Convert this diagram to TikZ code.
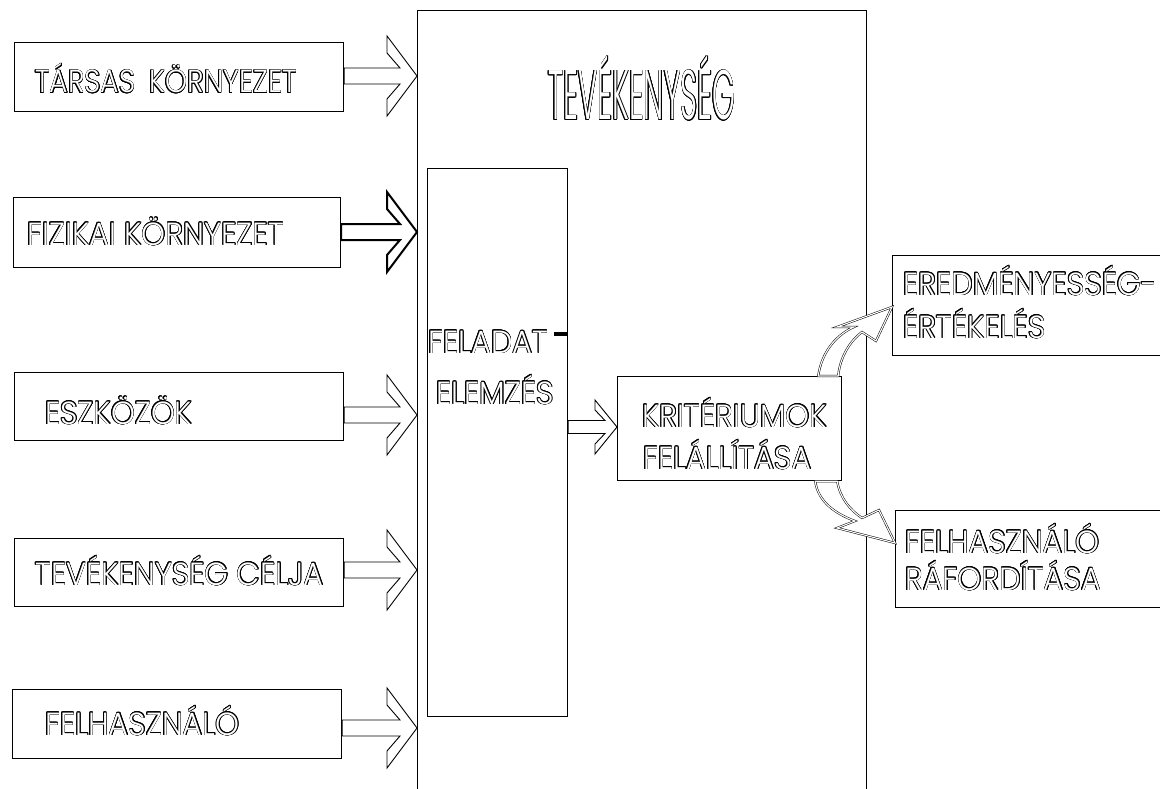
\documentclass[tikz,border=0pt]{standalone}
\usepackage{fontspec}
\setmainfont{Poppins}[UprightFont=* Light, FakeStretch=0.95]
\newfontfamily\narrowfont{Poppins}[UprightFont=* Light, FakeStretch=0.88]
\newfontfamily\condfont{Poppins}[UprightFont=* Light, FakeStretch=0.42]
\usepackage{contour}
\contourlength{0.6pt}
\usetikzlibrary{calc}
\newcommand\ol[1]{\contour{black}{#1}}
\tikzset{
  box/.style={draw=black, line width=1.2pt, rectangle, inner sep=0pt, anchor=north west},
  lbl/.style={anchor=base west, inner sep=0pt, text=white, font=\fontsize{32}{32}\selectfont},
  barrow/.style={draw=black, line width=0.9pt, fill=white, line join=miter},
  carrow/.style={draw=black, line width=0.5pt, double=white, double distance=1.1pt, line join=miter},
}
% #1 extra style, #2 start node, #3 end node, #4 y
\newcommand\blockarrow[4][]{%
  \draw[barrow,#1] ($(#2.east |- 0,#4)+(0,-8)$) -- ($(#3.west |- 0,#4)+(-17,-8)$)
    -- ($(#3.west |- 0,#4)+(-30,-23)$) -- ($(#3.west |- 0,#4)+(-30,-40)$)
    -- (#3.west |- 0,#4)
    -- ($(#3.west |- 0,#4)+(-30,40)$) -- ($(#3.west |- 0,#4)+(-30,23)$)
    -- ($(#3.west |- 0,#4)+(-17,8)$) -- ($(#2.east |- 0,#4)+(0,8)$) -- cycle;}
\begin{document}
\begin{tikzpicture}[x=1pt,y=-1pt]
\useasboundingbox (0,0) rectangle (1160,789);
\clip (0,0) rectangle (1160,789);
% main box
\node[box, minimum width=449pt, minimum height=790pt] (main) at (417,10) {};
\node[lbl, font=\condfont\fontsize{70}{70}\selectfont] (tmain) at (548,120) {\ol{TEVÉKENYSÉG}};
% left boxes
\node[box, minimum width=329pt, minimum height=69pt] (b1) at (14,42) {};
\node[box, minimum width=327pt, minimum height=70pt] (b2) at (13,197) {};
\node[box, minimum width=329pt, minimum height=68pt] (b3) at (14,372) {};
\node[box, minimum width=329pt, minimum height=68pt] (b4) at (14,538) {};
\node[box, minimum width=329pt, minimum height=69pt] (b5) at (12,689) {};
\node[lbl, font=\narrowfont\fontsize{32}{32}\selectfont] (t1) at (35,93) {\ol{TÁRSAS\hspace{14pt}KÖRNYEZET}};
\node[lbl] (t2) at (27,245) {\ol{FIZIKAI KÖRNYEZET}};
\node[lbl] (t3) at (45,424) {\ol{ESZKÖZÖK}};
\node[lbl] (t4) at (35,585) {\ol{TEVÉKENYSÉG CÉLJA}};
\node[lbl] (t5) at (45,735) {\ol{FELHASZNÁLÓ}};
% arrows into main box
\blockarrow{b1}{main}{76}
\blockarrow[line width=2pt]{b2}{main}{232}
\blockarrow{b3}{main}{415}
\blockarrow{b4}{main}{570}
\blockarrow{b5}{main}{728}
% inner box
\node[box, minimum width=140pt, minimum height=548pt] (fel) at (427,168) {};
\node[lbl] (tfel1) at (428,353) {\ol{FELADAT}};
\node[lbl] (tfel2) at (436,404) {\ol{ELEMZÉS}};
\draw[line width=4pt] (554,334) -- (fel.east |- 0,334);
% criteria box
\node[box, minimum width=224pt, minimum height=104pt] (krit) at (617,376) {};
\node[lbl] (tk1) at (642,427) {\ol{KRITÉRIUMOK}};
\node[lbl] (tk2) at (643,469) {\ol{FELÁLLÍTÁSA}};
\draw[barrow] ($(fel.east |- 0,427)+(0,-6.5)$) -- ($(krit.west |- 0,427)+(-12,-6.5)$)
  -- ($(krit.west |- 0,427)+(-22,-17)$) -- ($(krit.west |- 0,427)+(-22,-27)$)
  -- (krit.west |- 0,427)
  -- ($(krit.west |- 0,427)+(-22,27)$) -- ($(krit.west |- 0,427)+(-22,17)$)
  -- ($(krit.west |- 0,427)+(-12,6.5)$) -- ($(fel.east |- 0,427)+(0,6.5)$) -- cycle;
% right boxes
\node[box, minimum width=300pt, minimum height=100pt] (ered) at (892,255) {};
\node[lbl] (te1) at (903,295) {\ol{EREDMÉNYESSÉG-}};
\node[lbl] (te2) at (903,338) {\ol{ÉRTÉKELÉS}};
\node[box, minimum width=300pt, minimum height=97pt] (fr) at (895,510) {};
\node[lbl] (tf1) at (905,553) {\ol{FELHASZNÁLÓ}};
\node[lbl] (tf2) at (905,590) {\ol{RÁFORDÍTÁSA}};
% curved arrows
\draw[carrow, fill=white] ($(krit.north east)+(-24,0)$) .. controls (822,350) and (838,334) .. (854,327)
  -- (837,327) -- (ered.west |- 0,307) -- (876,341) -- (862,332)
  .. controls (850,341) and (840,357) .. ($(krit.north east)+(-4,0)$) -- cycle;
\draw[carrow, fill=white] ($(krit.south east)+(-27,0)$) .. controls (818,502) and (836,514) .. (855,521)
  -- (837,528) -- (fr.west |- 0,543) -- (879,510) -- (862,518)
  .. controls (850,510) and (840,498) .. ($(krit.south east)+(-5,0)$) -- cycle;
\end{tikzpicture}
\end{document}
